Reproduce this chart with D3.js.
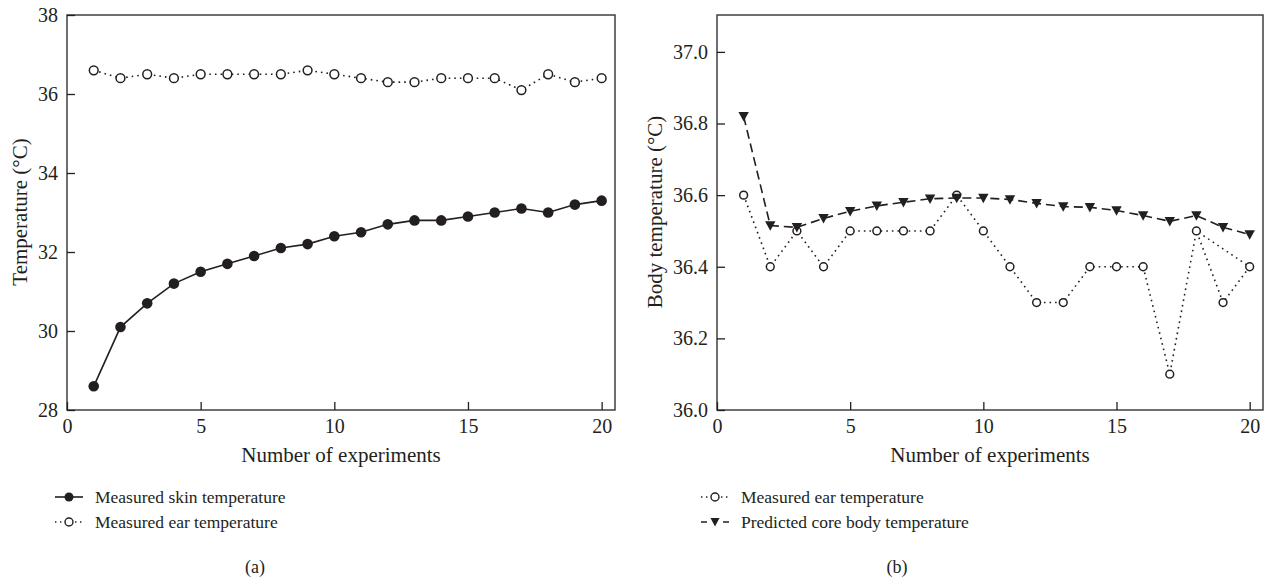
<!DOCTYPE html>
<html>
<head>
<meta charset="utf-8">
<title>Temperature charts</title>
<script src="https://d3js.org/d3.v7.min.js"></script>
<style>
  body { margin: 0; background: #fff; }
  text { font-family: "Liberation Serif", "DejaVu Serif", serif; fill: #231f20; }
</style>
</head>
<body>
<svg width="1267" height="577"></svg>
<script>
// data
const experiments = d3.range(1, 21)
const skinTemp = [28.6, 30.1, 30.7, 31.2, 31.5, 31.7, 31.9, 32.1, 32.2, 32.4,
                  32.5, 32.7, 32.8, 32.8, 32.9, 33.0, 33.1, 33.0, 33.2, 33.3]
const earTemp = [36.6, 36.4, 36.5, 36.4, 36.5, 36.5, 36.5, 36.5, 36.6, 36.5,
                 36.4, 36.3, 36.3, 36.4, 36.4, 36.4, 36.1, 36.5, 36.3, 36.4]
const coreTemp = [36.82, 36.515, 36.51, 36.535, 36.555, 36.57, 36.58, 36.59, 36.592, 36.592,
                  36.588, 36.577, 36.568, 36.566, 36.557, 36.543, 36.527, 36.543, 36.51, 36.49]
// the ear line in panel (b) closes back from point 20 to point 18
const earOrderB = [1, 2, 3, 4, 5, 6, 7, 8, 9, 10, 11, 12, 13, 14, 15, 16, 17, 18, 19, 20, 18]
const xTicks = [0, 5, 10, 15, 20]
const yTicksA = [28, 30, 32, 34, 36, 38]
const yTicksB = [36.0, 36.2, 36.4, 36.6, 36.8, 37.0]

const ink = "#231f20"
const svg = d3.select("svg")

function panel(opt) {
    const x = d3.scaleLinear().domain([0, 20.5]).range([opt.left, opt.right])
    const y = d3.scaleLinear().domain(opt.yDomain).range([410, 15])
    const g = svg.append("g")

    // frame
    g.append("rect")
        .attr("x", opt.left).attr("y", 15)
        .attr("width", opt.right - opt.left).attr("height", 395)
        .attr("fill", "none").attr("stroke", "#333").attr("stroke-width", 1.4)

    const xAxis = d3.axisBottom(x).tickValues(xTicks).tickSize(-8).tickPadding(9).tickFormat(d3.format("d"))
    g.append("g").attr("transform", "translate(0,410)").call(xAxis)

    const yAxis = d3.axisLeft(y).tickValues(opt.yTicks).tickFormat(opt.yFormat)
        .tickSize(-8).tickPadding(9)
    g.append("g").attr("transform", `translate(${opt.left},0)`).call(yAxis)

    g.selectAll(".domain").remove()
    g.selectAll(".tick line").attr("stroke", ink).attr("stroke-width", 1.3)
    g.selectAll(".tick text").attr("font-size", 20).attr("fill", ink)
        .style("font-family", "'Liberation Serif', serif")

    g.append("text")
        .attr("x", (x(0) + x(20.5)) / 2).attr("y", 462)
        .attr("text-anchor", "middle").attr("font-size", 21)
        .text("Number of experiments")
    g.append("text")
        .attr("transform", `translate(${opt.titleX},212) rotate(-90)`)
        .attr("text-anchor", "middle").attr("font-size", 21)
        .text(opt.yTitle)
    return { x, y, g }
}

function dottedEar(p, order, r) {
    const line = d3.line().x(i => p.x(experiments[i - 1])).y(i => p.y(earTemp[i - 1]))
    p.g.append("path").datum(order)
        .attr("d", line).attr("fill", "none").attr("stroke", ink)
        .attr("stroke-width", 1.6).attr("stroke-dasharray", "1.6,4")
    p.g.selectAll(null).data(experiments).enter().append("circle")
        .attr("cx", d => p.x(d)).attr("cy", (d, i) => p.y(earTemp[i]))
        .attr("r", r).attr("fill", "#fff").attr("stroke", ink).attr("stroke-width", 1.5)
}

// ---- panel (a)
const a = panel({
    left: 67, right: 615, yDomain: [28, 38], yTicks: yTicksA, yFormat: d3.format("d"),
    titleX: 27, yTitle: "Temperature (°C)"
})
a.g.append("path").datum(experiments)
    .attr("d", d3.line().x(d => a.x(d)).y((d, i) => a.y(skinTemp[i])))
    .attr("fill", "none").attr("stroke", ink).attr("stroke-width", 1.6)
a.g.selectAll(null).data(experiments).enter().append("circle")
    .attr("cx", d => a.x(d)).attr("cy", (d, i) => a.y(skinTemp[i]))
    .attr("r", 5.3).attr("fill", ink)
dottedEar(a, experiments, 4.4)

// ---- panel (b)
const b = panel({
    left: 717, right: 1263, yDomain: [36, 37.103], yTicks: yTicksB, yFormat: d3.format(".1f"),
    titleX: 662, yTitle: "Body temperature (°C)"
})
dottedEar(b, earOrderB, 3.9)
b.g.append("path").datum(experiments)
    .attr("d", d3.line().x(d => b.x(d)).y((d, i) => b.y(coreTemp[i])))
    .attr("fill", "none").attr("stroke", ink).attr("stroke-width", 1.6)
    .attr("stroke-dasharray", "9,5")
const tri = "M-5.2,-4.3L5.2,-4.3L0,5.2Z"
b.g.selectAll(null).data(experiments).enter().append("path")
    .attr("d", tri)
    .attr("transform", (d, i) => `translate(${b.x(d)},${b.y(coreTemp[i])})`)
    .attr("fill", ink)

// ---- legends
function legendRow(x0, y0, kind, label) {
    const g = svg.append("g")
    if (kind === "solid") {
        g.append("line").attr("x1", x0).attr("x2", x0 + 28).attr("y1", y0).attr("y2", y0)
            .attr("stroke", ink).attr("stroke-width", 1.6)
        g.append("circle").attr("cx", x0 + 14).attr("cy", y0).attr("r", 4.5).attr("fill", ink)
    } else if (kind === "dotted") {
        g.append("line").attr("x1", x0).attr("x2", x0 + 28).attr("y1", y0).attr("y2", y0)
            .attr("stroke", ink).attr("stroke-width", 1.4).attr("stroke-dasharray", "1.4,3.6")
        g.append("circle").attr("cx", x0 + 14).attr("cy", y0).attr("r", 4)
            .attr("fill", "#fff").attr("stroke", ink).attr("stroke-width", 1.4)
    } else {
        g.append("line").attr("x1", x0).attr("x2", x0 + 28).attr("y1", y0).attr("y2", y0)
            .attr("stroke", ink).attr("stroke-width", 1.6).attr("stroke-dasharray", "6,16,6")
        g.append("path").attr("d", "M-4.5,-4L4.5,-4L0,4.5Z")
            .attr("transform", `translate(${x0 + 14},${y0})`).attr("fill", ink)
    }
    g.append("text").attr("x", x0 + 40).attr("y", y0 + 5.5).attr("font-size", 17.5).text(label)
}
legendRow(55, 497, "solid", "Measured skin temperature")
legendRow(55, 522, "dotted", "Measured ear temperature")
legendRow(701, 497, "dotted", "Measured ear temperature")
legendRow(701, 522, "dashed", "Predicted core body temperature")

svg.append("text").attr("x", 255).attr("y", 573).attr("text-anchor", "middle")
    .attr("font-size", 18).text("(a)")
svg.append("text").attr("x", 897).attr("y", 573).attr("text-anchor", "middle")
    .attr("font-size", 18).text("(b)")
</script>
</body>
</html>
